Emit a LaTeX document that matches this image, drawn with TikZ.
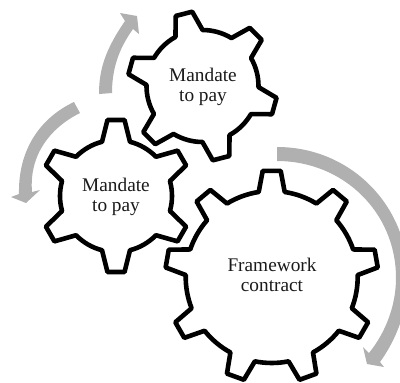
\documentclass[tikz,border=0pt]{standalone}
\usepackage{fontspec}
\setmainfont{Liberation Serif}
\usetikzlibrary{calc}
\definecolor{arrowgray}{HTML}{B0B0B0}
\definecolor{labelink}{HTML}{1A1A1A}
\tikzset{
  gearline/.style={draw=black,line width=4.6pt,line join=round,fill=white},
  flow/.style={fill=arrowgray,draw=none},
  gearlabel/.style={align=center,font=\fontsize{19.3}{20}\selectfont,text=labelink,inner sep=0pt}
}
% #1 cx, #2 cy, #3 teeth, #4 first angle, #5 outer r, #6 root r, #7 tip half width, #8 base half width
\newcommand{\gearshape}[8]{%
  \pgfmathsetmacro{\stepang}{360/#3}%
  \pgfmathsetmacro{\tipang}{asin(#7/#5)}%
  \pgfmathsetmacro{\baseang}{asin(#8/#6)}%
  \pgfmathsetmacro{\lastk}{int(#3-1)}%
  \draw[gearline] ($(#1,#2)+({#4+\baseang}:#6)$)
    \foreach \k in {0,...,\lastk}{
      -- ($(#1,#2)+({#4-\k*\stepang+\baseang}:#6)$)
      -- ($(#1,#2)+({#4-\k*\stepang+\tipang}:#5)$)
      -- ($(#1,#2)+({#4-\k*\stepang-\tipang}:#5)$)
      -- ($(#1,#2)+({#4-\k*\stepang-\baseang}:#6)$)
      arc[start angle={#4-\k*\stepang-\baseang},end angle={#4-\k*\stepang-\stepang+\baseang},radius=#6]
    } -- cycle;%
}
\begin{document}
\begin{tikzpicture}[x=1pt,y=1pt]
\path[use as bounding box,clip] (0,-383) rectangle (400,0);
% arrows
\fill[flow] (99,-94) .. controls (99,-70) and (105,-50) .. (125,-21) -- (120,-13) -- (137,-16) -- (139,-34) -- (133,-29)
  .. controls (118,-50) and (112,-70) .. (112,-93) -- cycle;
\fill[flow] (74,-102) .. controls (40,-118) and (18,-150) .. (19,-194) -- (11,-197) -- (26,-203) -- (40,-190) -- (32,-192)
  .. controls (29,-155) and (50,-128) .. (80,-113) -- cycle;
\fill[flow] (277,-147) .. controls (350,-147) and (408,-205) .. (408,-278)
  .. controls (408,-310) and (396,-340) .. (380,-362) -- (384,-367) -- (367,-364) -- (363,-347) -- (369,-353)
  .. controls (386,-332) and (396,-305) .. (396,-278)
  .. controls (396,-212) and (343,-161) .. (277,-161) -- cycle;
% gears
\gearshape{116}{-196}{6}{90}{76.5}{56}{8.5}{14}
\gearshape{202.5}{-86}{6}{104.4}{75}{56}{8.5}{14}
\gearshape{271.7}{-277}{9}{90}{106.5}{86}{9}{13}
\node[gearlabel] (topgear) at (203,-87) {Mandate\\to pay};
\node[gearlabel] (leftgear) at (116,-197) {Mandate\\to pay};
\node[gearlabel] (framework) at (272,-275) {Framework\\contract};
\end{tikzpicture}
\end{document}
